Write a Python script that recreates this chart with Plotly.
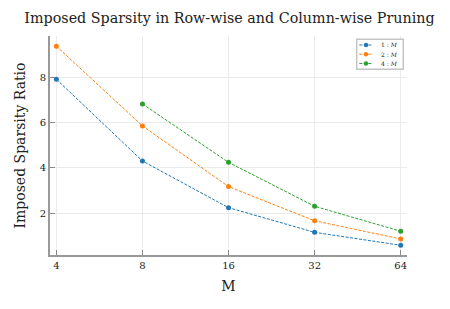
import plotly.graph_objects as go
import math

M_values = [4, 8, 16, 32, 64]
series_names = ["1 : <i>M</i>", "2 : <i>M</i>", "4 : <i>M</i>"]
ratio_1M = [7.91, 4.30, 2.24, 1.15, 0.58]
ratio_2M = [9.37, 5.85, 3.17, 1.66, 0.86]
ratio_4M_x = [8, 16, 32, 64]
ratio_4M = [6.82, 4.24, 2.30, 1.20]
colors = ["#1f77b4", "#ff7f0e", "#2ca02c"]
tick_vals = [4, 8, 16, 32, 64]
tick_text = ["4", "8", "16", "32", "64"]

FONT = "DejaVu Serif"

# page offset from the default 8px body margin
OFF = 8
W, H = 450 - OFF, 309 - OFF
PL, PR, PT, PB = 50, 407, 36, 255.5  # plot area in page pixels


def px(x):
    return (x - PL) / (PR - PL)


def py(y):
    return (PB - y) / (PB - PT)


fig = go.Figure()
series = [
    (series_names[0], M_values, ratio_1M, colors[0]),
    (series_names[1], M_values, ratio_2M, colors[1]),
    (series_names[2], ratio_4M_x, ratio_4M, colors[2]),
]
for name, xs, ys, c in series:
    fig.add_trace(go.Scatter(
        x=xs, y=ys, name=name, mode="lines+markers",
        line=dict(color=c, width=1, dash="3px,1.5px"),
        marker=dict(color=c, size=5),
        showlegend=False,
    ))

# compact legend box (decoration, in paper coordinates)
shapes = [dict(type="rect", xref="paper", yref="paper",
               x0=px(356.7), x1=px(403.3), y0=py(69.3), y1=py(39.3),
               line=dict(color="#c4c4c4", width=1.5), fillcolor="white", layer="above")]
annotations = []
for i, (name, xs, ys, c) in enumerate(series):
    yy = 45 + i * 9.3
    shapes.append(dict(type="line", xref="paper", yref="paper",
                       x0=px(359.3), x1=px(372.7), y0=py(yy), y1=py(yy),
                       line=dict(color=c, width=1, dash="3px,1.5px"), layer="above"))
    shapes.append(dict(type="circle", xref="paper", yref="paper",
                       x0=px(366 - 2.2), x1=px(366 + 2.2), y0=py(yy + 2.2), y1=py(yy - 2.2),
                       line=dict(color=c, width=0), fillcolor=c, layer="above"))
    annotations.append(dict(xref="paper", yref="paper", x=px(378.5), y=py(yy),
                            xanchor="left", yanchor="middle", showarrow=False,
                            text=name, font=dict(size=6, family=FONT, color="#222")))

fig.update_layout(
    width=W, height=H,
    margin=dict(l=PL - OFF, r=450 - PR, t=PT - OFF, b=309 - PB, autoexpand=False),
    paper_bgcolor="white", plot_bgcolor="white",
    font=dict(family=FONT, color="#222"),
    title=dict(text="Imposed Sparsity in Row-wise and Column-wise Pruning",
               x=px(229.5), xref="paper", xanchor="center",
               yref="container", y=1 - (18 - OFF) / H, yanchor="middle",
               font=dict(size=14.3, family=FONT, color="#222")),
    showlegend=False,
    shapes=shapes,
    annotations=annotations,
)
fig.update_xaxes(
    type="log", range=[1.926 * math.log10(2), 6.073 * math.log10(2)],
    tickvals=tick_vals, ticktext=tick_text,
    ticks="inside", ticklen=5, tickcolor="#888", tickwidth=1.2,
    showline=True, linecolor="#999", linewidth=1.8,
    showgrid=True, gridcolor="#ebebeb", gridwidth=1,
    zeroline=False, mirror=False, automargin=False,
    tickfont=dict(size=10, family=FONT),
    title=dict(text="M", font=dict(size=14, family=FONT), standoff=11),
)
fig.update_yaxes(
    range=[0.15, 9.82],
    tickvals=[2, 4, 6, 8], ticktext=["2", "4", "6", "8"],
    ticks="inside", ticklen=5, tickcolor="#888", tickwidth=1.2,
    showline=True, linecolor="#999", linewidth=1.8,
    showgrid=True, gridcolor="#ebebeb", gridwidth=1,
    zeroline=False, mirror=False, automargin=False,
    tickfont=dict(size=10, family=FONT),
    title=dict(text="Imposed Sparsity Ratio", font=dict(size=14, family=FONT), standoff=11),
)

fig.write_html("out.html")
